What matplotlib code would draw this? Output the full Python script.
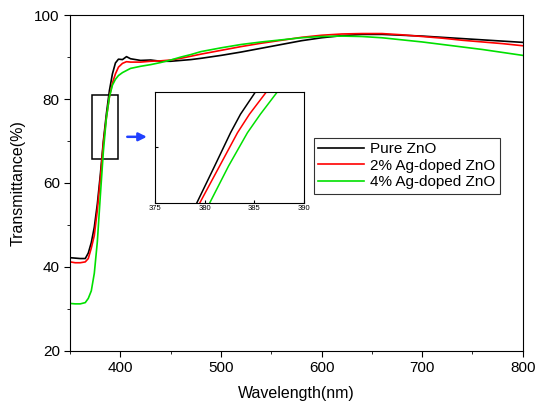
import matplotlib
matplotlib.use("Agg")
import matplotlib.pyplot as plt
from matplotlib.patches import Rectangle
from matplotlib.ticker import MultipleLocator

plt.rcParams['font.family'] = ['Liberation Sans', 'DejaVu Sans']

# wavelength grid (nm)
wl = [350, 355, 360, 365, 368, 371, 374, 377, 380, 383, 386, 389, 392, 395, 398,
      402, 406, 410, 420, 430, 440, 450, 460, 470, 480, 500, 520, 540, 560, 580,
      600, 620, 640, 660, 680, 700, 720, 740, 760, 780, 800]

pure = [42.2, 42.1, 42.0, 42.0, 43.3, 45.8, 49.5, 55.0, 62.0, 70.0, 76.5, 82.0, 86.0, 88.6, 89.5,
        89.4, 90.1, 89.6, 89.2, 89.3, 89.0, 89.0, 89.2, 89.4, 89.7, 90.4, 91.2, 92.1, 93.0, 93.9,
        94.6, 95.1, 95.4, 95.4, 95.2, 95.0, 94.7, 94.4, 94.1, 93.8, 93.5]

ag2 = [41.2, 41.0, 41.0, 41.2, 42.0, 44.5, 47.5, 53.5, 61.0, 69.5, 75.5, 80.5, 83.8, 86.0, 87.6,
       88.5, 88.9, 88.8, 88.8, 89.0, 89.1, 89.3, 89.7, 90.2, 90.7, 91.6, 92.5, 93.3, 94.0, 94.7,
       95.2, 95.5, 95.6, 95.6, 95.3, 94.9, 94.5, 94.0, 93.6, 93.2, 92.7]

ag4 = [31.3, 31.2, 31.2, 31.5, 32.5, 34.3, 38.5, 46.0, 57.0, 67.5, 75.5, 80.5, 83.3, 84.7, 85.6,
       86.3, 86.8, 87.3, 87.8, 88.2, 88.7, 89.3, 90.0, 90.6, 91.3, 92.2, 93.0, 93.6, 94.1, 94.6,
       94.9, 95.0, 94.9, 94.6, 94.1, 93.6, 93.0, 92.4, 91.8, 91.1, 90.4]

# inset curves (zoom on the absorption edge)
inset_y = [64, 65, 70, 74.5, 77, 80, 81]
inset_pure = [378.9, 379.2, 381.0, 382.6, 383.6, 385.1, 385.5]
inset_ag2 = [379.2, 379.5, 381.5, 383.3, 384.5, 386.2, 386.6]
inset_ag4 = [380.2, 380.5, 382.4, 384.3, 385.6, 387.3, 387.7]

labels = ['Pure ZnO', '2% Ag-doped ZnO', '4% Ag-doped ZnO']
colors = ['black', 'red', '#00e000']

fig = plt.figure(figsize=(5.44, 4.08), dpi=100)
ax = fig.add_axes([0.129, 0.140, 0.832, 0.823])

for y, c, lab in zip([pure, ag2, ag4], colors, labels):
    ax.plot(wl, y, color=c, lw=1.2, label=lab)

ax.set_xlim(350, 800)
ax.set_ylim(20, 100)
ax.xaxis.set_major_locator(MultipleLocator(100))
ax.xaxis.set_minor_locator(MultipleLocator(50))
ax.yaxis.set_major_locator(MultipleLocator(20))
ax.yaxis.set_minor_locator(MultipleLocator(10))
ax.tick_params(which='both', direction='out', top=False, right=False, labelsize=11)
ax.tick_params(which='major', length=4)
ax.tick_params(which='minor', length=2.5)
ax.set_xlabel('Wavelength(nm)', fontsize=11.5, labelpad=8)
ax.set_ylabel('Transmittance(%)', fontsize=11.5, labelpad=6)

# zoom box and arrow
ax.add_patch(Rectangle((371.5, 65.6), 26.5, 15.4, fill=False, ec='black', lw=1.1))
ax.annotate('', xy=(429, 71), xytext=(404, 71),
            arrowprops=dict(arrowstyle='-|>', color='#2040ff', lw=1.8, mutation_scale=12))

leg = ax.legend(loc='upper left', bbox_to_anchor=(0.577, 0.662),
                bbox_transform=fig.transFigure, fontsize=11, frameon=True,
                fancybox=False, edgecolor='black', handlelength=3.0,
                borderpad=0.3, labelspacing=0.15, handletextpad=0.4,
                borderaxespad=0)
leg.get_frame().set_linewidth(0.8)

ins = fig.add_axes([0.285, 0.5025, 0.274, 0.272])
for x, c in zip([inset_pure, inset_ag2, inset_ag4], colors):
    ins.plot(x, inset_y, color=c, lw=1.1)
ins.set_xlim(375, 390)
ins.set_ylim(65, 80)
ins.xaxis.set_major_locator(MultipleLocator(5))
ins.set_yticks([72.5])
ins.set_yticklabels([])
ins.tick_params(direction='in', labelsize=5.5, length=2, pad=1.5)

fig.savefig('out.png', dpi=100)
